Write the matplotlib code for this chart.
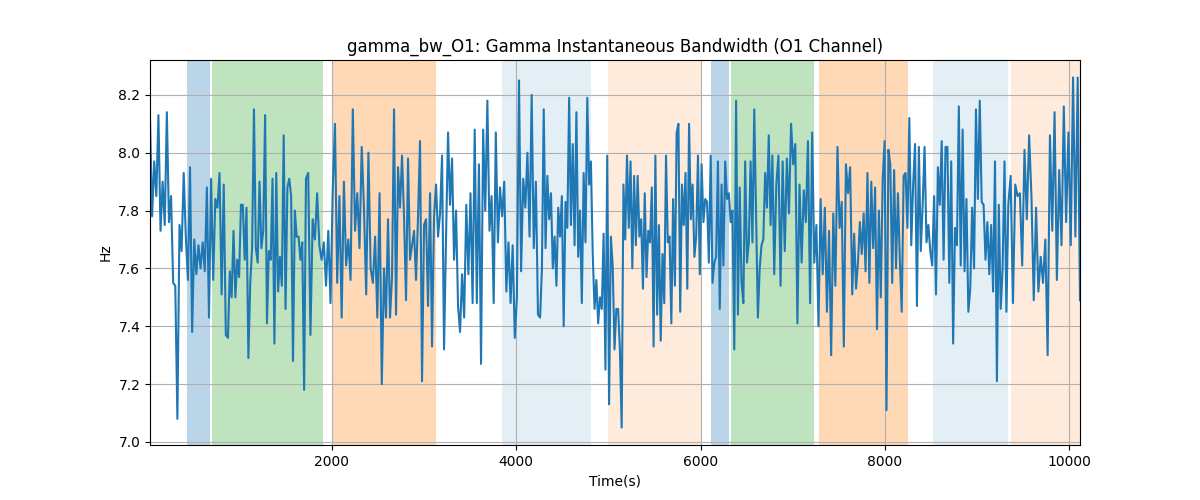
import numpy as np
import matplotlib
matplotlib.use("Agg")
import matplotlib.pyplot as plt

# values, in chunks of roughly equal time length
chunk_edges = [25, 871, 1718, 2565, 3412, 4259, 5106, 5953, 6800, 7647, 8494, 9341, 10119]

chunk_01 = [8.12, 7.78, 7.97, 7.85, 8.13, 7.73, 7.90, 7.75, 8.14, 7.76, 7.85, 7.55, 7.54, 7.08,
            7.75, 7.66, 7.93, 7.71, 7.56, 7.95, 7.38, 7.70, 7.58, 7.68, 7.60, 7.69, 7.59, 7.88,
            7.43, 7.91, 7.56, 7.84, 7.81, 7.93, 7.51, 7.89, 7.37]
chunk_02 = [7.36, 7.59, 7.50, 7.73, 7.50, 7.63, 7.57, 7.82, 7.82, 7.63, 7.81, 7.29, 7.55, 7.67,
            8.15, 7.67, 7.62, 7.90, 7.67, 7.73, 8.13, 7.41, 7.66, 7.63, 7.91, 7.34, 7.93, 7.52,
            7.64, 7.54, 8.06, 7.46, 7.88, 7.91, 7.85, 7.28, 7.80, 7.71, 7.71, 7.63, 7.69, 7.18]
chunk_03 = [7.91, 7.93, 7.37, 7.77, 7.70, 7.86, 7.68, 7.63, 7.69, 7.54, 7.73, 7.48, 7.87, 8.10,
            7.55, 7.85, 7.43, 7.90, 7.61, 7.70, 7.56, 8.15, 7.73, 7.86, 7.67, 8.02, 7.81, 7.51,
            8.00, 7.60, 7.55, 7.71, 7.43, 7.86, 7.20]
chunk_04 = [7.60, 7.43, 7.77, 7.43, 7.57, 8.15, 7.44, 7.95, 7.81, 7.99, 7.78, 7.49, 7.98, 7.63,
            7.68, 7.73, 7.56, 7.78, 8.04, 7.21, 7.75, 7.77, 7.47, 7.86, 7.33, 7.78, 7.89, 7.71,
            7.79, 7.99, 7.32, 7.71, 8.07, 7.82, 7.98, 7.63, 7.80, 7.47, 7.38]
chunk_05 = [7.58, 7.43, 7.82, 7.58, 7.86, 7.48, 8.08, 7.48, 7.96, 7.27, 8.08, 7.80, 8.18, 7.73,
            7.85, 7.48, 8.07, 7.69, 7.88, 7.78, 7.90, 7.52, 7.69, 7.48, 7.68, 7.36, 7.50, 8.25,
            7.59, 7.91, 7.81, 8.00, 7.71, 8.20, 7.67, 7.90, 7.44]
chunk_06 = [7.43, 7.60, 8.15, 7.67, 7.92, 7.77, 7.86, 7.60, 7.71, 7.54, 7.81, 7.71, 7.85, 7.40,
            7.83, 7.74, 8.19, 7.75, 8.03, 7.68, 8.14, 7.64, 7.80, 7.48, 7.93, 7.69, 8.19, 7.89,
            7.97, 7.65, 7.46, 7.56, 7.41, 7.50, 7.46, 7.72, 7.25, 7.99, 7.13, 7.71, 7.61, 7.32,
            7.46]
chunk_07 = [7.46, 7.32, 7.05, 7.89, 7.70, 7.99, 7.74, 7.97, 7.60, 7.92, 7.68, 7.92, 7.71, 7.77,
            7.53, 7.86, 7.57, 7.73, 7.69, 7.88, 7.33, 7.99, 7.44, 7.75, 7.35, 7.65, 7.48, 7.99,
            7.69, 7.71, 7.41, 7.84, 7.54, 8.07, 8.10, 7.45, 7.89, 7.75, 7.93, 7.53, 8.10, 7.77,
            7.89, 7.64]
chunk_08 = [7.71, 7.99, 7.58, 7.96, 7.76, 7.84, 7.83, 7.62, 7.99, 7.55, 7.62, 7.64, 7.97, 7.46,
            7.89, 7.61, 7.97, 7.84, 7.86, 7.76, 7.80, 7.32, 8.18, 7.44, 7.88, 7.55, 7.48, 7.97,
            7.62, 7.69, 7.97, 7.69, 8.15, 7.78, 7.43, 7.60, 7.68, 7.70, 7.93, 7.81, 8.06, 7.75,
            7.99]
chunk_09 = [7.58, 7.89, 7.99, 7.54, 7.97, 7.66, 7.98, 7.79, 8.10, 7.96, 8.03, 7.41, 7.89, 7.62,
            7.87, 7.76, 8.04, 7.48, 8.07, 7.62, 7.75, 7.40, 7.84, 7.58, 7.81, 7.45, 7.73, 7.30,
            7.79, 7.54, 8.02, 7.74, 7.83, 7.33, 7.96, 7.86, 7.95]
chunk_10 = [7.51, 7.72, 7.53, 7.62, 7.76, 7.65, 7.79, 7.59, 7.93, 7.55, 7.90, 7.67, 7.88, 7.39,
            7.80, 7.50, 7.91, 8.04, 7.11, 8.01, 7.96, 7.55, 7.94, 7.60, 7.86, 7.63, 7.45, 7.92,
            7.93, 7.74, 8.12, 7.68, 7.89, 8.03, 7.47, 8.02, 7.66, 7.82, 8.02, 7.69, 7.75]
chunk_11 = [7.66, 7.61, 7.85, 7.51, 7.95, 7.82, 8.04, 7.63, 8.02, 8.02, 7.55, 7.97, 7.34, 7.74,
            7.68, 8.16, 7.61, 8.08, 7.59, 7.84, 7.45, 7.53, 7.81, 7.60, 8.15, 7.84, 8.18, 7.83,
            7.82, 7.63, 7.76, 7.58, 7.75, 7.52, 7.97, 7.21, 7.82, 7.46, 7.60, 7.97, 7.45]
chunk_12 = [7.82, 7.92, 7.48, 7.89, 7.85, 7.86, 7.61, 8.01, 7.77, 8.06, 7.85, 7.49, 7.81, 7.52,
            7.64, 7.55, 7.70, 7.30, 8.06, 7.73, 8.14, 7.56, 7.94, 7.68, 8.16, 7.76, 8.07, 7.68,
            8.26, 7.71, 8.26, 7.49]

chunks = [chunk_01, chunk_02, chunk_03, chunk_04, chunk_05, chunk_06,
          chunk_07, chunk_08, chunk_09, chunk_10, chunk_11, chunk_12]

# shaded intervals (start, end) and their style
span_starts = [430, 697, 2011, 3847, 5000, 6117, 6334, 7289, 8526, 9373]
span_ends = [676, 1904, 3130, 4814, 6020, 6312, 7235, 8255, 9340, 10122]
span_colors = ["tab:blue", "tab:green", "tab:orange", "tab:blue", "tab:orange",
               "tab:blue", "tab:green", "tab:orange", "tab:blue", "tab:orange"]
span_alphas = [0.3, 0.3, 0.3, 0.12, 0.15, 0.3, 0.3, 0.3, 0.12, 0.15]

times = []
values = []
for i, ch in enumerate(chunks):
    last = i == len(chunks) - 1
    t = np.linspace(chunk_edges[i], chunk_edges[i + 1], len(ch), endpoint=last)
    times.extend(t)
    values.extend(ch)
times = np.array(times)
values = np.array(values)

fig, ax = plt.subplots(figsize=(12, 5), dpi=100)
for s, e, c, a in zip(span_starts, span_ends, span_colors, span_alphas):
    ax.axvspan(s, e, color=c, alpha=a, linewidth=0)
ax.plot(times, values, color="tab:blue", linewidth=1.5)
ax.set_xlim(times[0], times[-1])
ax.grid(True)
ax.set_title("gamma_bw_O1: Gamma Instantaneous Bandwidth (O1 Channel)")
ax.set_xlabel("Time(s)")
ax.set_ylabel("Hz")
fig.savefig("out.png")
